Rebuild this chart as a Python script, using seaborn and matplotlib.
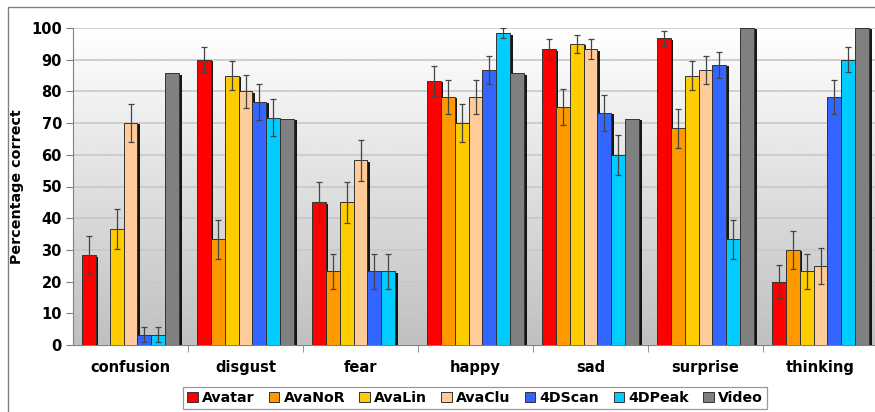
import numpy as np
import pandas as pd
import seaborn as sns
import matplotlib.pyplot as plt
import matplotlib.patheffects as pe
from matplotlib.patches import Patch, Rectangle

emotions = ['confusion', 'disgust', 'fear', 'happy', 'sad', 'surprise', 'thinking']
methods = ['Avatar', 'AvaNoR', 'AvaLin', 'AvaClu', '4DScan', '4DPeak', 'Video']
colors = ['#ff0000', '#ff9900', '#ffcc00', '#ffcc99', '#3366ff', '#00ccff', '#808080']

# percentage correct per method, one value per emotion
avatar = [28.3, 90.0, 45.0, 83.3, 93.3, 96.7, 20.0]
avanor = [0.0, 33.3, 23.3, 78.3, 75.0, 68.3, 30.0]
avalin = [36.7, 85.0, 45.0, 70.0, 95.0, 85.0, 23.3]
avaclu = [70.0, 80.0, 58.3, 78.3, 93.3, 86.7, 25.0]
scan4d = [3.3, 76.7, 23.3, 86.7, 73.3, 88.3, 78.3]
peak4d = [3.3, 71.7, 23.3, 98.3, 60.0, 33.3, 90.0]
video = [85.7, 71.4, 0.0, 85.7, 71.4, 100.0, 100.0]

# error bar half-lengths (Video has none)
avatar_err = [6.0, 4.0, 6.5, 4.8, 3.2, 2.3, 5.2]
avanor_err = [0.0, 6.2, 5.5, 5.3, 5.6, 6.0, 6.0]
avalin_err = [6.3, 4.7, 6.5, 6.0, 2.8, 4.6, 5.5]
avaclu_err = [6.0, 5.3, 6.5, 5.3, 3.2, 4.4, 5.6]
scan4d_err = [2.5, 5.6, 5.5, 4.5, 5.7, 4.2, 5.3]
peak4d_err = [2.5, 5.9, 5.5, 1.6, 6.4, 6.2, 3.9]
video_err = [0, 0, 0, 0, 0, 0, 0]

values = [avatar, avanor, avalin, avaclu, scan4d, peak4d, video]
errors = [avatar_err, avanor_err, avalin_err, avaclu_err, scan4d_err, peak4d_err, video_err]

df = pd.DataFrame([
    {'emotion': e, 'method': m, 'pct': values[i][j]}
    for i, m in enumerate(methods) for j, e in enumerate(emotions)
])

fig = plt.figure(figsize=(8.75, 4.12), dpi=100)
ax = fig.add_axes([73 / 875, 67 / 412, 805 / 875, 317 / 412])

# gradient background white -> grey
grad = np.linspace(0.75, 1.0, 256).reshape(-1, 1)
ax.imshow(grad, cmap='gray', vmin=0, vmax=1, origin='lower', aspect='auto',
          extent=(-0.5, 6.5, 0, 100), zorder=0)

sns.barplot(data=df, x='emotion', y='pct', hue='method', hue_order=methods,
            order=emotions, palette=colors, saturation=1, width=0.85, errorbar=None,
            edgecolor='#333333', linewidth=0.7, legend=False, ax=ax, zorder=3)

shadow = [pe.SimplePatchShadow(offset=(1.6, -1.0), shadow_rgbFace='black', alpha=0.9), pe.Normal()]
bar_conts = list(ax.containers)
for i, cont in enumerate(bar_conts):
    for j, bar in enumerate(cont):
        if values[i][j] == 0:
            bar.set_visible(False)
            continue
        bar.set_path_effects(shadow)
        if errors[i][j] > 0:
            ax.errorbar(bar.get_x() + bar.get_width() / 2, bar.get_height(),
                        yerr=errors[i][j], fmt='none', ecolor='#444444',
                        elinewidth=0.9, capsize=2.5, capthick=0.9, zorder=5)

ax.set_xlim(-0.5, 6.5)
ax.set_ylim(0, 100)
ax.set_yticks(range(0, 101, 10))
ax.grid(axis='y', color='#c8c8c8', linewidth=1.2, zorder=1)
ax.set_axisbelow(True)
for s in ['top', 'right']:
    ax.spines[s].set_visible(False)
for s in ['left', 'bottom']:
    ax.spines[s].set_color('#808080')
ax.tick_params(axis='y', length=5, color='#808080', labelsize=10.5, pad=3)
ax.tick_params(axis='x', which='major', length=0, labelsize=10.5, pad=11)
ax.set_xticks(np.arange(0.5, 6, 1), minor=True)
ax.tick_params(axis='x', which='minor', length=5, color='#808080')
for lab in ax.get_xticklabels() + ax.get_yticklabels():
    lab.set_fontweight('bold')
ax.set_xlabel('')
ax.set_ylabel('Percentage correct', fontsize=10.3, fontweight='bold', labelpad=5)

handles = [Patch(facecolor=c, edgecolor='#333333', linewidth=0.7) for c in colors]
leg = fig.legend(handles, methods, ncol=7, loc='center', bbox_to_anchor=(475 / 875, 1 - 398 / 412),
                 frameon=True, fancybox=False, edgecolor='#808080', handlelength=0.75,
                 handleheight=0.75, handletextpad=0.3, columnspacing=1.0, borderpad=0.25,
                 prop={'weight': 'bold', 'size': 10.2})
leg.get_frame().set_linewidth(0.9)

fig.patches.append(Rectangle((8 / 875, -0.1), 1.2, 1.1 - 7 / 412, transform=fig.transFigure,
                             fill=False, edgecolor='#808080', linewidth=1.0))

fig.savefig('out.png', dpi=100)
